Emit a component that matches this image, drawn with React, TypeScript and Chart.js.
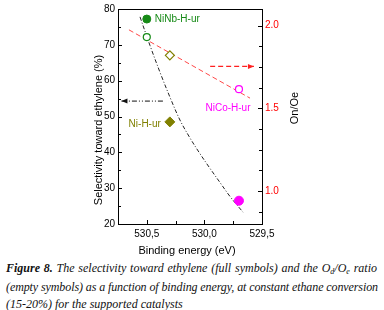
import React, { useEffect, useLayoutEffect, useRef } from "react";
import { Chart, registerables } from "chart.js";

Chart.register(...registerables);

// ---- data ----
const catalysts = ["NiNb-H-ur", "Ni-H-ur", "NiCo-H-ur"];
const bindingEnergy = [530.5, 530.3, 529.7];
const selectivity = [77.2, 48.5, 26.5];
const ratio = [1.93, 1.82, 1.615];
const catalystColors = ["#168a16", "#808000", "#ff00ff"];

const selFitX = [530.559, 530.472, 530.385, 530.299, 530.212, 530.125, 530.038, 529.951, 529.865, 529.778, 529.665];
const selFitY = [77.8, 69.8, 62.3, 55.4, 49.0, 44.0, 39.6, 35.5, 31.6, 27.7, 23.3];

const ratioFitX = [530.655, 529.604];
const ratioFitY = [1.974, 1.561];

const leftArrowX = [530.36, 530.72];
const leftArrowY = [54.3, 54.3];
const rightArrowX = [529.95, 529.57];
const rightArrowY = [1.753, 1.753];

const xTicks = [529.5, 529.75, 530.0, 530.25, 530.5, 530.75];
const xMajor = [529.5, 530.0, 530.5];
const yLeftTicks = [20, 25, 30, 35, 40, 45, 50, 55, 60, 65, 70, 75, 80];
const yLeftMajor = [20, 30, 40, 50, 60, 70, 80];
const yRightTicks = [0.875, 1.0, 1.125, 1.25, 1.375, 1.5, 1.625, 1.75, 1.875, 2.0];
const yRightMajor = [1.0, 1.5, 2.0];

const xTitle = "Binding energy (eV)";
const yLeftTitle = "Selectivity toward ethylene (%)";
const yRightTitle = "On/Oe";

const near = (v: number, arr: number[]) => arr.some((a) => Math.abs(a - v) < 1e-6);
const pts = (xs: number[], ys: number[]) => xs.map((x, i) => ({ x, y: ys[i] }));

const SANS = "'Liberation Sans', Arial, sans-serif";

const framePlugin = {
  id: "frame",
  afterDatasetsDraw(chart: any) {
    const { ctx, chartArea: a, scales } = chart;
    ctx.save();
    const head = (x0: number, y0: number, x1: number, y1: number, color: string) => {
      const ang = Math.atan2(y1 - y0, x1 - x0);
      const L = 6, W = 2.5;
      ctx.fillStyle = color;
      ctx.beginPath();
      ctx.moveTo(x1, y1);
      ctx.lineTo(x1 - L * Math.cos(ang) + W * Math.sin(ang), y1 - L * Math.sin(ang) - W * Math.cos(ang));
      ctx.lineTo(x1 - L * Math.cos(ang) - W * Math.sin(ang), y1 - L * Math.sin(ang) + W * Math.cos(ang));
      ctx.closePath();
      ctx.fill();
    };
    const x = scales.x, yl = scales.yL, yr = scales.yR;
    head(x.getPixelForValue(leftArrowX[0]), yl.getPixelForValue(leftArrowY[0]),
      x.getPixelForValue(leftArrowX[1]), yl.getPixelForValue(leftArrowY[1]), "#111");
    head(x.getPixelForValue(rightArrowX[0]), yr.getPixelForValue(rightArrowY[0]),
      x.getPixelForValue(rightArrowX[1]), yr.getPixelForValue(rightArrowY[1]), "#ff2020");

    ctx.strokeStyle = "#000";
    ctx.lineWidth = 1;
    ctx.strokeRect(Math.round(a.left) + 0.5, Math.round(a.top) + 0.5, Math.round(a.right - a.left), Math.round(a.bottom - a.top));
    ctx.beginPath();
    xTicks.forEach((v) => {
      const px = Math.round(x.getPixelForValue(v)) + 0.5;
      const len = near(v, xMajor) ? 4 : 3;
      ctx.moveTo(px, a.bottom);
      ctx.lineTo(px, a.bottom - len);
    });
    yLeftTicks.forEach((v) => {
      const py = Math.round(yl.getPixelForValue(v)) + 0.5;
      const len = near(v, yLeftMajor) ? 4 : 3;
      ctx.moveTo(a.left, py);
      ctx.lineTo(a.left + len, py);
    });
    yRightTicks.forEach((v) => {
      const py = Math.round(yr.getPixelForValue(v)) + 0.5;
      const len = near(v, yRightMajor) ? 4 : 3;
      ctx.moveTo(a.right, py);
      ctx.lineTo(a.right - len, py);
    });
    ctx.stroke();

    ctx.fillStyle = "#000";
    ctx.font = `11px ${SANS}`;
    ctx.textAlign = "center";
    ctx.textBaseline = "middle";
    ctx.fillText(xTitle, 187, 251);
    ctx.save();
    ctx.translate(99, 130);
    ctx.rotate(-Math.PI / 2);
    ctx.fillText(yLeftTitle, 0, 0);
    ctx.restore();
    ctx.save();
    ctx.translate(295, 108);
    ctx.rotate(-Math.PI / 2);
    ctx.fillText(yRightTitle, 0, 0);
    ctx.restore();

    ctx.font = `10px ${SANS}`;
    const p0x = x.getPixelForValue(bindingEnergy[0]);
    const p0y = yl.getPixelForValue(selectivity[0]);
    ctx.fillStyle = catalystColors[0];
    ctx.textAlign = "left";
    ctx.fillText(catalysts[0], p0x + 8, p0y + 0.5);
    const p1x = x.getPixelForValue(bindingEnergy[1]);
    const p1y = yl.getPixelForValue(selectivity[1]);
    ctx.fillStyle = catalystColors[1];
    ctx.textAlign = "right";
    ctx.fillText(catalysts[1], p1x - 9, p1y + 2.5);
    const p2x = x.getPixelForValue(bindingEnergy[2]);
    const p2y = yr.getPixelForValue(ratio[2]);
    ctx.fillStyle = catalystColors[2];
    ctx.textAlign = "center";
    ctx.fillText(catalysts[2], p2x - 11, p2y + 19);
    ctx.restore();
  },
};

function ChartView() {
  const ref = useRef<HTMLCanvasElement | null>(null);
  useEffect(() => {
    if (!ref.current) return;
    const chart = new Chart(ref.current, {
      type: "scatter",
      data: {
        datasets: [
          {
            label: "selectivity",
            data: pts(bindingEnergy, selectivity),
            yAxisID: "yL",
            showLine: false,
            pointStyle: ["circle", "rectRot", "circle"] as any,
            pointRadius: [4, 5, 4.5],
            backgroundColor: catalystColors,
            borderColor: catalystColors,
            borderWidth: 1,
            order: 0,
          },
          {
            label: "ratio",
            data: pts(bindingEnergy, ratio),
            yAxisID: "yR",
            showLine: false,
            pointStyle: ["circle", "rectRot", "circle"] as any,
            pointRadius: [3.5, 4.5, 3.5],
            backgroundColor: "#ffffff",
            borderColor: catalystColors,
            borderWidth: 1.2,
            order: 0,
          },
          {
            label: "selFit",
            data: pts(selFitX, selFitY),
            yAxisID: "yL",
            showLine: true,
            pointRadius: 0,
            borderColor: "#222",
            borderWidth: 1,
            borderDash: [4, 2, 1, 2],
            tension: 0.35,
            order: 1,
          },
          {
            label: "ratioFit",
            data: pts(ratioFitX, ratioFitY),
            yAxisID: "yR",
            showLine: true,
            pointRadius: 0,
            borderColor: "#ff4848",
            borderWidth: 1,
            borderDash: [5, 3],
            order: 1,
          },
          {
            label: "leftArrow",
            data: pts(leftArrowX, leftArrowY),
            yAxisID: "yL",
            showLine: true,
            pointRadius: 0,
            borderColor: "#111",
            borderWidth: 1,
            borderDash: [5, 2, 1, 2, 1, 2],
            order: 1,
          },
          {
            label: "rightArrow",
            data: pts(rightArrowX, rightArrowY),
            yAxisID: "yR",
            showLine: true,
            pointRadius: 0,
            borderColor: "#ff2020",
            borderWidth: 1.2,
            borderDash: [5, 3],
            order: 1,
          },
        ],
      },
      options: {
        responsive: false,
        animation: false,
        events: [],
        layout: { padding: { top: 7, left: 0, right: 0, bottom: 0 } },
        plugins: { legend: { display: false }, tooltip: { enabled: false }, title: { display: false } },
        scales: {
          x: {
            type: "linear",
            position: "bottom",
            reverse: true,
            min: 529.5,
            max: 530.75,
            grid: { display: false, drawTicks: false },
            border: { display: false },
            afterFit: (s: any) => { s.height = 34; },
            afterBuildTicks: (s: any) => { s.ticks = xTicks.map((v) => ({ value: v })); },
            ticks: {
              autoSkip: false,
              maxRotation: 0,
              padding: 4,
              color: "#000",
              font: { family: SANS, size: 10 },
              callback: (v: any) => (near(Number(v), xMajor) ? Number(v).toFixed(1).replace(".", ",") : ""),
            },
          },
          yL: {
            type: "linear",
            position: "left",
            min: 20,
            max: 80,
            grid: { display: false, drawTicks: false },
            border: { display: false },
            afterFit: (s: any) => { s.width = 118; },
            afterBuildTicks: (s: any) => { s.ticks = yLeftTicks.map((v) => ({ value: v })); },
            ticks: {
              autoSkip: false,
              padding: 3,
              color: "#000",
              font: { family: SANS, size: 10 },
              callback: (v: any) => (near(Number(v), yLeftMajor) ? String(v) : ""),
            },
          },
          yR: {
            type: "linear",
            position: "right",
            min: 0.8,
            max: 2.1,
            grid: { display: false, drawTicks: false },
            border: { display: false },
            afterFit: (s: any) => { s.width = 122; },
            afterBuildTicks: (s: any) => { s.ticks = yRightTicks.map((v) => ({ value: v })); },
            ticks: {
              autoSkip: false,
              padding: 3,
              color: "#ff0000",
              font: { family: SANS, size: 10 },
              callback: (v: any) => (near(Number(v), yRightMajor) ? Number(v).toFixed(1) : ""),
            },
          },
        },
      } as any,
      plugins: [framePlugin],
    });
    return () => chart.destroy();
  }, []);
  return <canvas ref={ref} width={384} height={258} style={{ display: "block", width: 384, height: 258 }} />;
}

const capStyle: React.CSSProperties = {
  position: "absolute",
  left: 6,
  fontFamily: "'Liberation Serif', 'Times New Roman', serif",
  fontStyle: "italic",
  fontSize: 12,
  lineHeight: "17px",
  whiteSpace: "nowrap",
  color: "#111",
};
const subStyle: React.CSSProperties = { fontSize: 8, verticalAlign: "-2px", lineHeight: 0 };

// stretch or squeeze a single caption line to a target width
function FitLine({ top, width, children }: { top: number; width: number | null; children: React.ReactNode }) {
  const ref = useRef<HTMLDivElement | null>(null);
  useLayoutEffect(() => {
    const el = ref.current;
    if (!el || width == null) return;
    el.style.wordSpacing = "0px";
    el.style.letterSpacing = "0px";
    const natural = el.getBoundingClientRect().width;
    const text = el.textContent || "";
    const spaces = (text.match(/ /g) || []).length;
    const chars = text.length;
    let diff = width - natural;
    if (diff < 0) {
      const ls = diff / chars;
      el.style.letterSpacing = `${ls}px`;
    } else if (spaces > 0) {
      el.style.wordSpacing = `${diff / spaces}px`;
    }
  }, [width]);
  return (
    <div ref={ref} style={{ ...capStyle, top }}>
      {children}
    </div>
  );
}

export default function App() {
  return (
    <div style={{ position: "absolute", left: 0, top: 0, width: 384, height: 310, background: "#fff", overflow: "hidden" }}>
      <ChartView />
      <FitLine top={260} width={371}>
        <b>Figure 8.</b> The selectivity toward ethylene (full symbols) and the O<span style={subStyle}>d</span>/O<span style={subStyle}>e</span> ratio
      </FitLine>
      <FitLine top={278.5} width={372}>
        (empty symbols) as a function of binding energy, at constant ethane conversion
      </FitLine>
      <FitLine top={295.5} width={null}>(15-20%) for the supported catalysts</FitLine>
    </div>
  );
}
